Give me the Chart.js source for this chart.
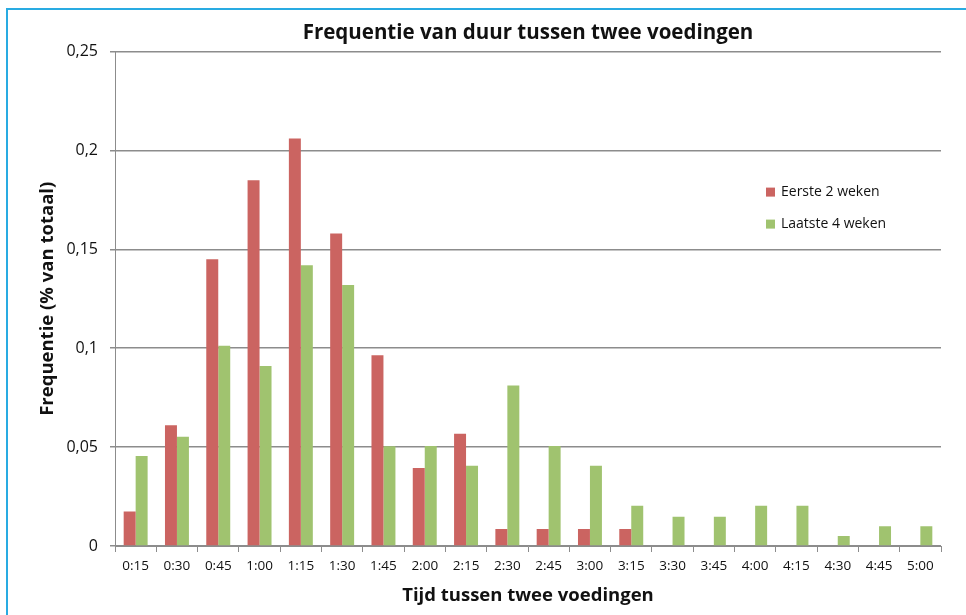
<!DOCTYPE html>
<html>
<head>
<meta charset="utf-8">
<script src="https://cdn.jsdelivr.net/npm/chart.js@4.4.0/dist/chart.umd.min.js"></script>
<style>
  html, body { margin: 0; padding: 0; background: #fff; }
  #wrap { position: relative; width: 966px; height: 615px; overflow: hidden; }
  #frame { position: absolute; left: 6px; top: 8px; width: 1000px; height: 700px;
           border-left: 2px solid #29abe2; border-top: 2px solid #29abe2; }
  #myChart { position: absolute; left: 0; top: 0; }
</style>
</head>
<body>
<div id="wrap">
  <div id="frame"></div>
  <canvas id="myChart" width="966" height="615"></canvas>
</div>
<script>
// tijdsklassen (x-as)
const labels = ['0:15','0:30','0:45','1:00','1:15','1:30','1:45','2:00','2:15','2:30',
                '2:45','3:00','3:15','3:30','3:45','4:00','4:15','4:30','4:45','5:00'];

// frequenties
const eersteTweeWeken = [0.0175, 0.061, 0.145, 0.185, 0.206, 0.158, 0.0965, 0.0395, 0.0567, 0.0086,
                         0.0086, 0.0086, 0.0086, 0, 0, 0, 0, 0, 0, 0];
const laatsteVierWeken = [0.0455, 0.0553, 0.1013, 0.091, 0.142, 0.132, 0.0504, 0.0506, 0.0406, 0.0811,
                          0.0506, 0.0406, 0.0204, 0.0148, 0.0148, 0.0204, 0.0204, 0.0051, 0.01, 0.01];

const yTicks = [0, 0.05, 0.1, 0.15, 0.2, 0.25];

const rood = '#cb6461';
const groen = '#a0c36f';
const grijs = '#8c8c8c';
const fontFam = "'Open Sans', sans-serif";

// legenda binnen het plotgebied
const legendInside = {
  id: 'legendInside',
  afterDraw(chart) {
    const c = chart.ctx;
    const area = chart.chartArea;
    const x = area.right - 175;
    let y = area.top + 140;
    c.save();
    c.font = '14px ' + fontFam;
    c.textBaseline = 'middle';
    chart.data.datasets.forEach(ds => {
      c.fillStyle = ds.backgroundColor;
      c.fillRect(x, y - 4, 9, 9);
      c.fillStyle = '#111';
      c.fillText(ds.label, x + 15, y);
      y += 32;
    });
    c.restore();
  }
};

const ctx = document.getElementById('myChart');
var chart = new Chart(ctx, {
  type: 'bar',
  data: {
    labels: labels,
    datasets: [
      { label: 'Eerste 2 weken', data: eersteTweeWeken, backgroundColor: rood,
        categoryPercentage: 0.58, barPercentage: 1.0 },
      { label: 'Laatste 4 weken', data: laatsteVierWeken, backgroundColor: groen,
        categoryPercentage: 0.58, barPercentage: 1.0 }
    ]
  },
  options: {
    responsive: false,
    animation: false,
    layout: { padding: { left: 8, right: 25, top: 8, bottom: 0 } },
    plugins: {
      legend: { display: false },
      tooltip: { enabled: false },
      title: {
        display: true,
        fullSize: false,
        text: 'Frequentie van duur tussen twee voedingen',
        color: '#111',
        font: { family: fontFam, size: 20.5, weight: 'bold', lineHeight: 1.2 },
        padding: { top: 13, bottom: 6 }
      }
    },
    scales: {
      x: {
        grid: { display: true, offset: true, drawOnChartArea: false, drawTicks: true,
                tickLength: 6, color: grijs },
        border: { display: true, color: grijs, width: 1 },
        ticks: { color: '#111', font: { family: fontFam, size: 13.5 }, padding: 6,
                 maxRotation: 0, autoSkip: false },
        title: { display: true, text: 'Tijd tussen twee voedingen', color: '#111',
                 font: { family: fontFam, size: 18.5, weight: 'bold', lineHeight: 1.2 },
                 padding: { top: 0, bottom: 8 } },
        afterFit(scale) { scale.height = 69; }
      },
      y: {
        min: 0,
        max: 0.25,
        afterBuildTicks(scale) { scale.ticks = yTicks.map(v => ({ value: v })); },
        grid: { color: grijs, lineWidth: 1.5, drawTicks: true, tickLength: 5 },
        border: { display: true, color: grijs, width: 1 },
        ticks: {
          color: '#111', font: { family: fontFam, size: 16 }, padding: 12,
          callback: v => String(v).replace('.', ',')
        },
        title: { display: true, text: 'Frequentie (% van totaal)', color: '#111',
                 font: { family: fontFam, size: 18.5, weight: 'bold', lineHeight: 1.2 },
                 padding: { top: 29, bottom: 0 } },
        afterFit(scale) { scale.width = 107; }
      }
    }
  },
  plugins: [legendInside]
});
</script>
</body>
</html>
